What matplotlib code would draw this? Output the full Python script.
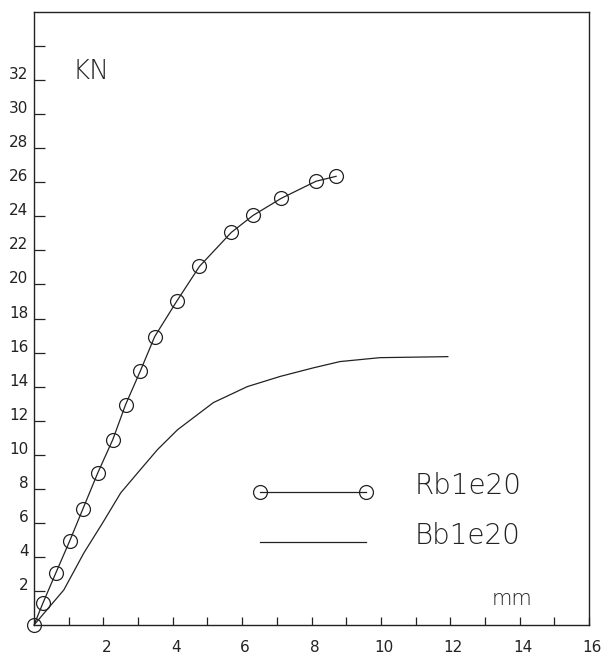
import matplotlib
matplotlib.use("Agg")
import matplotlib.pyplot as plt
import matplotlib.transforms as mtransforms

# ---- data ----
rb_x = [0, 0.26, 0.63, 1.03, 1.41, 1.84, 2.27, 2.64, 3.07, 3.48, 4.11, 4.77, 5.69, 6.32, 7.13, 8.13, 8.71]
rb_y = [0, 1.3, 3.06, 4.94, 6.82, 8.94, 10.88, 12.94, 14.94, 16.94, 19.0, 21.06, 23.06, 24.06, 25.06, 26.06, 26.35]

bb_x = [0, 0.86, 1.44, 1.98, 2.5, 2.99, 3.56, 4.14, 5.17, 6.15, 7.1, 8.05, 8.82, 9.97, 11.93]
bb_y = [0, 2.06, 4.24, 6.0, 7.76, 8.94, 10.3, 11.47, 13.06, 14.0, 14.6, 15.1, 15.47, 15.7, 15.76]

series_labels = ["Rb1e20", "Bb1e20"]

x_ticks = list(range(1, 17))
x_ticklabels = [str(v) if v % 2 == 0 else "" for v in x_ticks]
y_ticks = list(range(2, 35, 2))
y_ticklabels = [str(v) if v <= 32 else "" for v in y_ticks]

y_unit = "KN"
x_unit = "mm"

# ---- figure ----
plt.rcParams["font.family"] = ["DejaVu Sans"]
plt.rcParams["font.weight"] = "light"

W, H, DPI = 603, 660, 100
fig = plt.figure(figsize=(W / DPI, H / DPI), dpi=DPI)
fig.patch.set_facecolor("white")

left, right, bottom, top = 34, 589, 625, 12
ax = fig.add_axes([left / W, 1 - bottom / H, (right - left) / W, (bottom - top) / H])
ax.set_xlim(0, 16)
ax.set_ylim(0, 36)

ink = "#222222"
for s in ax.spines.values():
    s.set_color(ink)
    s.set_linewidth(1.0)

l1, = ax.plot(rb_x, rb_y, color=ink, lw=0.9, marker="o", ms=10,
              mfc="none", mec=ink, mew=0.9, label=series_labels[0], clip_on=False)
l2, = ax.plot(bb_x, bb_y, color=ink, lw=0.9, label=series_labels[1])

ax.set_xticks(x_ticks)
ax.set_xticklabels(x_ticklabels, fontweight="normal")
ax.set_yticks(y_ticks)
ax.set_yticklabels(y_ticklabels, fontweight="normal")
ax.tick_params(axis="x", direction="in", length=6, width=0.9, color=ink,
               labelsize=11, pad=11, labelcolor=ink, top=False)
ax.tick_params(axis="y", direction="in", length=8, width=0.9, color=ink,
               labelsize=11, pad=4, labelcolor=ink, right=False)

dy = mtransforms.ScaledTranslation(0, 7 / DPI, fig.dpi_scale_trans)
for t in ax.yaxis.get_major_ticks():
    t.label1.set_transform(t.label1.get_transform() + dy)
dx = mtransforms.ScaledTranslation(3 / DPI, 0, fig.dpi_scale_trans)
for t in ax.xaxis.get_major_ticks():
    t.label1.set_transform(t.label1.get_transform() + dx)

ax.text(1.1, 32.5, y_unit, fontsize=19, color=ink, va="center", ha="left")
ax.text(13.2, 1.5, x_unit, fontsize=15, color=ink, va="center", ha="left")

fs = 20
leg = ax.legend(handles=[l1, l2], loc="upper left",
                bbox_to_anchor=((252 - left) / (right - left), (bottom - 480) / (bottom - top)),
                frameon=False, fontsize=fs, numpoints=2, handlelength=4.4,
                handletextpad=1.45, borderpad=0, borderaxespad=0, labelspacing=0.78,
                labelcolor=ink)
for t in leg.get_texts():
    t.set_y(8)

fig.savefig("out.png", dpi=DPI, facecolor="white")
